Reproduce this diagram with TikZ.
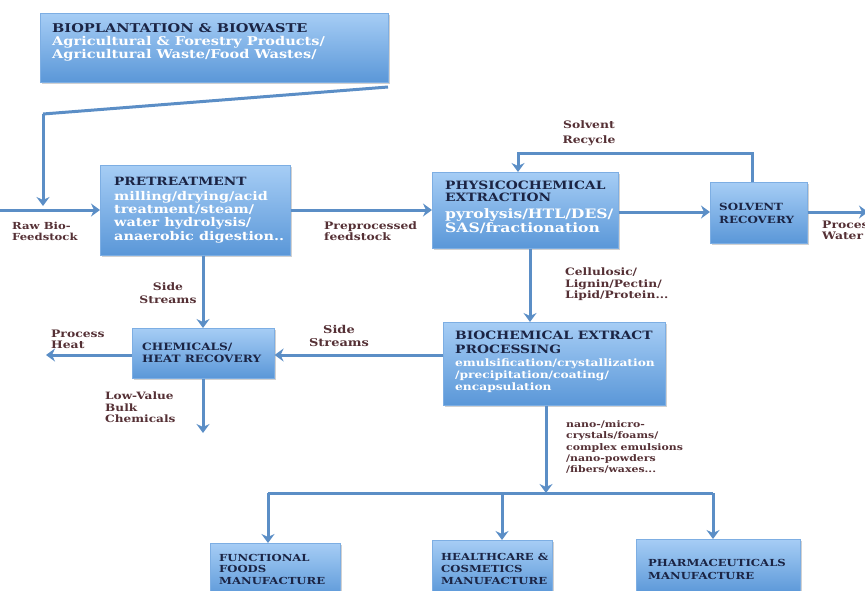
\documentclass[tikz,border=0pt]{standalone}
\usepackage{fontspec}
\usepackage{graphicx}
\setmainfont{DejaVu Serif}
\usetikzlibrary{arrows.meta,shadows}
\definecolor{arrowc}{HTML}{5B8EC6}
\definecolor{boxtop}{HTML}{A6CDF5}
\definecolor{boxbot}{HTML}{5A97D8}
\definecolor{boxedge}{HTML}{7DAEE3}
\definecolor{titlec}{HTML}{1B2444}
\definecolor{labelc}{HTML}{553035}
% text block: #1 column spec, #2 font size, #3 line pitch, #4 rows
\newcommand\tb[4]{\scalebox{1.2}[1]{\fontsize{#2}{#3}\selectfont\bfseries\begin{tabular}[t]{@{}#1@{}}#4\end{tabular}}}
\newcommand\wh[1]{\textcolor{white}{#1}}
\tikzset{
  box/.style={draw=boxedge, line width=0.6pt, top color=boxtop, bottom color=boxbot,
    anchor=north west, inner sep=0pt,
    drop shadow={shadow xshift=1.5pt, shadow yshift=-2pt, opacity=0.3, fill=black!60}},
  btxt/.style={anchor=base west, inner sep=0pt, text=titlec},
  lbl/.style={anchor=base west, inner sep=0pt, text=labelc},
  clbl/.style={anchor=base, inner sep=0pt, text=labelc},
  flow/.style={draw=arrowc, line width=3pt, -{Stealth[length=9pt,width=13pt,inset=3pt]}},
  flowline/.style={draw=arrowc, line width=3pt},
}
\begin{document}
\begin{tikzpicture}[x=1pt,y=-1pt]
\useasboundingbox (0,0) rectangle (865,590);
% boxes
\node[box, minimum width=348pt, minimum height=69pt] (bio) at (40,13) {};
\node[box, minimum width=190pt, minimum height=90pt] (pre) at (100,165) {};
\node[box, minimum width=186pt, minimum height=76pt] (phy) at (432,172) {};
\node[box, minimum width=97pt, minimum height=61pt] (sol) at (710,182) {};
\node[box, minimum width=142pt, minimum height=50pt] (chem) at (132,328) {};
\node[box, minimum width=222pt, minimum height=83pt] (bce) at (443,322) {};
\node[box, minimum width=130pt, minimum height=55pt] (ff) at (210,543) {};
\node[box, minimum width=120pt, minimum height=55pt] (hc) at (432,540) {};
\node[box, minimum width=164pt, minimum height=55pt] (ph) at (636,539) {};

% box texts
\node[btxt] (biot) at (52,32.5)
  {\tb{l}{12.1}{13}{BIOPLANTATION \& BIOWASTE\\
   \wh{Agricultural \& Forestry Products/}\\
   \wh{Agricultural Waste/Food Wastes/}}};
\node[btxt] (pret) at (114,185.5)
  {\tb{l}{11.4}{13.3}{PRETREATMENT\\[1.5pt]
   \wh{\fontsize{12}{13.3}\selectfont milling/drying/acid}\\
   \wh{\fontsize{12}{13.3}\selectfont treatment/steam/}\\
   \wh{\fontsize{12}{13.3}\selectfont water hydrolysis/}\\
   \wh{\fontsize{12}{13.3}\selectfont anaerobic digestion..}}};
\node[btxt] (phyt) at (445,189)
  {\tb{l}{11.5}{12.7}{PHYSICOCHEMICAL\\
   EXTRACTION\\[3pt]
   \wh{\fontsize{13}{13}\selectfont pyrolysis/HTL/DES/}\\
   \wh{\fontsize{13}{13}\selectfont SAS/fractionation}}};
\node[btxt] (solt) at (719,210)
  {\tb{l}{9.9}{13}{SOLVENT\\RECOVERY}};
\node[btxt] (chemt) at (142,350)
  {\tb{l}{10.1}{12}{CHEMICALS/\\HEAT RECOVERY}};
\node[btxt] (bcet) at (455,339)
  {\tb{l}{11.5}{14.3}{BIOCHEMICAL EXTRACT\\
   PROCESSING\\[-1.5pt]
   \wh{\fontsize{10.2}{12}\selectfont emulsification/crystallization}\\[-2pt]
   \wh{\fontsize{10.2}{12}\selectfont /precipitation/coating/}\\[-2.5pt]
   \wh{\fontsize{10.2}{12}\selectfont encapsulation}}};
\node[btxt] (fft) at (219,561)
  {\tb{l}{9.7}{11.8}{FUNCTIONAL\\FOODS\\MANUFACTURE}};
\node[btxt] (hct) at (441,560)
  {\tb{l}{9.7}{12.1}{HEALTHCARE \&\\COSMETICS\\MANUFACTURE}};
\node[btxt] (pht) at (648,566.5)
  {\tb{l}{9.7}{13}{PHARMACEUTICALS\\MANUFACTURE}};

% coordinates
\coordinate (rawin) at (0,210);
\coordinate (bioturn1) at (388,87);
\coordinate (bioturn2) at (43,114);
\coordinate (rawdown) at (43,206);
\coordinate (pwout) at (868,212);
\coordinate (recy1) at (752,153);
\coordinate (recy2) at (518,153);
\coordinate (heatout) at (46,355);
\coordinate (bulkout) at (203,433);
\coordinate (bus) at (546,493);
\coordinate (busL) at (268,493);
\coordinate (busM) at (502,493);
\coordinate (busR) at (713,493);

% connectors
\draw[flowline] (bioturn1) -- (bioturn2);
\draw[flow] (bioturn2) -- (rawdown);
\draw[flow] (rawin) -- (pre.west |- rawin);
\draw[flow] (pre.east |- 0,210) -- (phy.west |- 0,210);
\draw[flow] (phy.east |- 0,212) -- (sol.west |- 0,212);
\draw[flow] (sol.east |- 0,212) -- (pwout);
\draw[flow] (sol.north -| recy1) -- (recy1) -- (recy2) -- (phy.north -| recy2);
\draw[flow] (pre.south -| 203,0) -- (chem.north -| 203,0);
\draw[flow] (chem.west |- 0,355) -- (heatout);
\draw[flow] (chem.south -| 203,0) -- (bulkout);
\draw[flow] (bce.west |- 0,355) -- (chem.east |- 0,355);
\draw[flow] (phy.south -| 530,0) -- (bce.north -| 530,0);
\draw[flow] (bce.south -| bus) -- (bus);
\draw[flowline] (busL) -- (busR);
\draw[flow] (busL) -- (ff.north -| busL);
\draw[flow] (busM) -- (hc.north -| busM);
\draw[flow] (busR) -- (ph.north -| busR);

% labels
\node[lbl] (l1) at (12,229) {\tb{l}{9.7}{11}{Raw Bio-\\Feedstock}};
\node[lbl] (l2) at (324,229) {\tb{l}{10.3}{11}{Preprocessed\\feedstock}};
\node[clbl] (l3) at (589,128) {\tb{c}{10.3}{15}{Solvent\\Recycle}};
\node[lbl] (l4) at (822,228) {\tb{l}{10.3}{11}{Process\\Water}};
\node[clbl] (l5) at (168,290) {\tb{c}{10.3}{13}{Side\\Streams}};
\node[lbl] (l6) at (51,337) {\tb{l}{10.3}{11.6}{Process\\Heat}};
\node[clbl] (l7) at (339,333) {\tb{c}{10.8}{13.4}{Side\\Streams}};
\node[lbl] (l8) at (105,399.5) {\tb{l}{10.1}{11.7}{Low-Value\\Bulk\\Chemicals}};
\node[lbl] (l9) at (565,275.5) {\tb{l}{10.2}{11.7}{Cellulosic/\\Lignin/Pectin/\\Lipid/Protein...}};
\node[lbl] (l10) at (566,427.5) {\tb{l}{9.1}{11.3}{nano-/micro-\\crystals/foams/\\complex emulsions\\/nano-powders\\/fibers/waxes...}};
\end{tikzpicture}
\end{document}
